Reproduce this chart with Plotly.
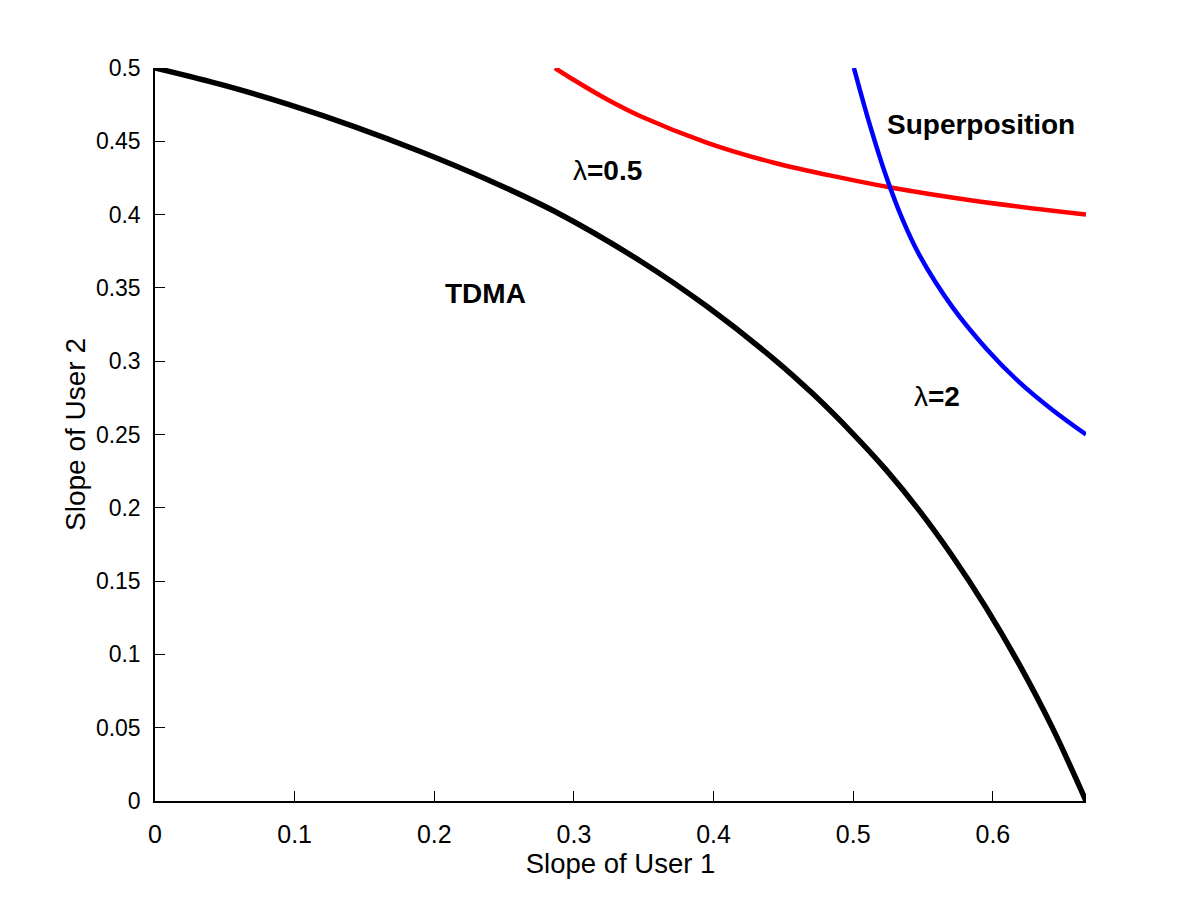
import plotly.graph_objects as go

# TDMA boundary
tdma_x = [0.0, 0.0477, 0.0955, 0.1432, 0.1909, 0.2387, 0.2864, 0.3478, 0.3956, 0.4434, 0.4717,
          0.5, 0.5237, 0.5475, 0.5712, 0.595, 0.6187, 0.6425, 0.6667]
tdma_y = [0.5, 0.4886, 0.4752, 0.4599, 0.4427, 0.4236, 0.4021, 0.3682, 0.3371, 0.3013, 0.2772,
          0.2503, 0.2257, 0.1979, 0.1668, 0.1321, 0.0935, 0.0502, 0.0]

# Superposition, lambda = 0.5
red_x = [0.2864, 0.3, 0.3239, 0.3477, 0.3955, 0.4432, 0.491, 0.5268, 0.5864, 0.6667]
red_y = [0.5, 0.4918, 0.4785, 0.4671, 0.449, 0.4354, 0.4252, 0.4185, 0.4095, 0.4]

# Superposition, lambda = 2
blue_x = [0.5005, 0.5119, 0.5237, 0.5356, 0.5475, 0.5712, 0.595, 0.6187, 0.6425, 0.6667]
blue_y = [0.5, 0.4612, 0.4258, 0.3960, 0.3722, 0.3367, 0.3089, 0.2859, 0.2669, 0.25]

x_ticks = [0, 0.1, 0.2, 0.3, 0.4, 0.5, 0.6]
x_ticktext = ["0", "0.1", "0.2", "0.3", "0.4", "0.5", "0.6"]
y_ticks = [0, 0.05, 0.1, 0.15, 0.2, 0.25, 0.3, 0.35, 0.4, 0.45, 0.5]
y_ticktext = ["0", "0.05", "0.1", "0.15", "0.2", "0.25", "0.3", "0.35", "0.4", "0.45", "0.5"]

labels = [
    ("<b>Superposition</b>", 0.5915, 0.4618),
    ("λ<b>=0.5</b>", 0.3237, 0.4304),
    ("<b>TDMA</b>", 0.237, 0.3465),
    ("λ<b>=2</b>", 0.56, 0.2756),
]

FONT = "Liberation Sans, Arial, Helvetica, sans-serif"

fig = go.Figure()
fig.add_trace(go.Scatter(x=tdma_x, y=tdma_y, mode="lines",
                         line=dict(color="black", width=5.5, shape="spline", smoothing=1.0)))
fig.add_trace(go.Scatter(x=red_x, y=red_y, mode="lines",
                         line=dict(color="#ff0000", width=4.5, shape="spline", smoothing=1.0)))
fig.add_trace(go.Scatter(x=blue_x, y=blue_y, mode="lines",
                         line=dict(color="#0000ff", width=4.5, shape="spline", smoothing=1.0)))

for txt, x, y in labels:
    fig.add_annotation(x=x, y=y, text=txt, showarrow=False,
                       font=dict(family=FONT, size=28, color="black"))

fig.update_layout(
    width=1200, height=903,
    margin=dict(l=147, r=122, t=60, b=110),
    paper_bgcolor="white", plot_bgcolor="white",
    showlegend=False,
    font=dict(family=FONT, size=24, color="black"),
)
fig.update_xaxes(range=[0, 0.6667], tickvals=x_ticks, ticktext=x_ticktext,
                 ticks="inside", ticklen=10, tickcolor="black", tickwidth=1.2,
                 showline=True, linecolor="black", linewidth=1.5, mirror=False,
                 showgrid=False, zeroline=False, ticklabelstandoff=10,
                 title=dict(text="Slope of User 1", standoff=3, font=dict(size=27.5)),
                 tickfont=dict(size=25))
fig.update_yaxes(range=[0, 0.5], tickvals=y_ticks, ticktext=y_ticktext,
                 ticks="inside", ticklen=10, tickcolor="black", tickwidth=1.2,
                 showline=True, linecolor="black", linewidth=1.5, mirror=False,
                 showgrid=False, zeroline=False, ticklabelstandoff=8,
                 title=dict(text="Slope of User 2", standoff=2, font=dict(size=28)),
                 tickfont=dict(size=23))

fig.write_html("out.html")
